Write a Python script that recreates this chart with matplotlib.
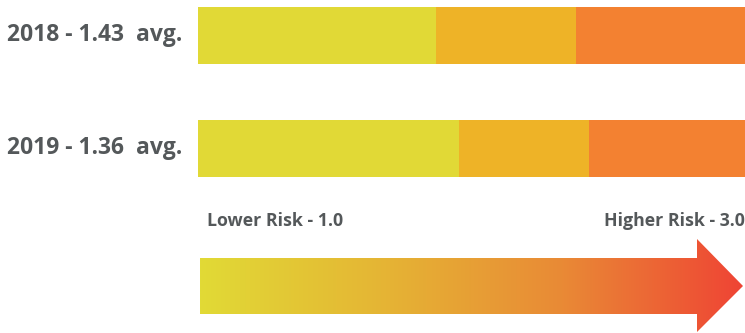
import numpy as np
import matplotlib.pyplot as plt
from matplotlib.colors import LinearSegmentedColormap
from matplotlib.patches import Polygon

# share of each risk band per year (percent of bar length)
years = ['2018', '2019']
averages = ['1.43', '1.36']
low = [43.5, 47.7]
medium = [25.6, 23.8]
high = [30.9, 28.5]
band_colors = ['#e1d936', '#eeb327', '#f38131']
scale_labels = ['Lower Risk - 1.0', 'Higher Risk - 3.0']

text_color = '#54585a'
W, H = 745, 333

fig = plt.figure(figsize=(W / 100, H / 100), dpi=100)

# overlay axes in pixel coordinates for the arrow and text
bg = fig.add_axes([0, 0, 1, 1])
bg.set_xlim(0, W)
bg.set_ylim(H, 0)
bg.axis('off')

# bars axes: x in percent, y in pixel rows
ax = fig.add_axes([198 / W, 0, 547 / W, 1])
ax.set_xlim(0, 100)
ax.set_ylim(H, 0)
ax.axis('off')

y_centers = [35, 148.5]
bar_h = 57
left = np.zeros(len(years))
for vals, c in zip([low, medium, high], band_colors):
    ax.barh(y_centers, vals, left=left, height=bar_h, color=c, linewidth=0)
    left += np.array(vals)

for yc, yr, avg in zip(y_centers, years, averages):
    bg.text(7, yc, f'{yr} - {avg}  avg.', ha='left', va='center',
            fontsize=16.5, fontweight='bold', color=text_color,
            family='Open Sans')

bg.text(207, 221, scale_labels[0], ha='left', va='center', fontsize=12.8,
        fontweight='bold', color=text_color, family='Open Sans')
bg.text(745, 221, scale_labels[1], ha='right', va='center', fontsize=12.8,
        fontweight='bold', color=text_color, family='Open Sans')

# gradient arrow
cmap = LinearSegmentedColormap.from_list(
    'risk', ['#e1da36', '#e5b534', '#e98a36', '#ef4434'])
verts = [(200, 258), (697, 258), (697, 239), (743, 286), (697, 332),
         (697, 314), (200, 314)]
arrow = Polygon(verts, closed=True, facecolor='none', edgecolor='none')
bg.add_patch(arrow)
grad = np.linspace(0, 1, 256).reshape(1, -1)
im = bg.imshow(grad, cmap=cmap, aspect='auto', extent=[200, 743, 332, 239],
               interpolation='bilinear')
im.set_clip_path(arrow)
bg.set_xlim(0, W)
bg.set_ylim(H, 0)

fig.savefig('out.png', dpi=100)
